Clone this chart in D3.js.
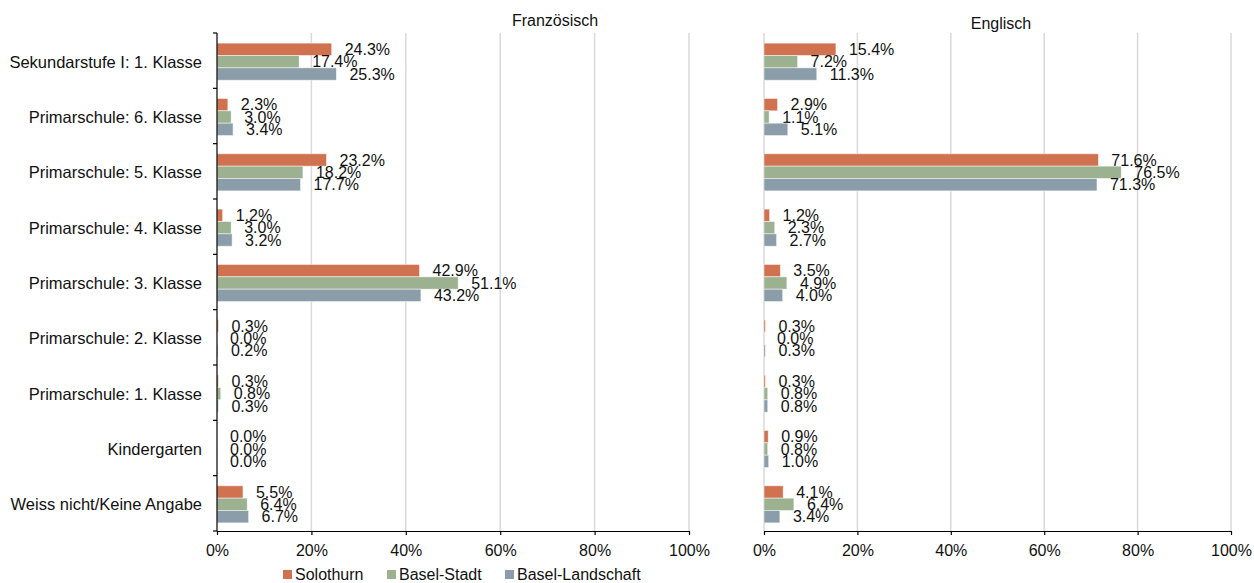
<!DOCTYPE html>
<html>
<head>
<meta charset="utf-8">
<script src="https://cdn.jsdelivr.net/npm/d3@7"></script>
<style>
  html, body { margin: 0; padding: 0; background: #fff; }
  svg { display: block; font-family: "Liberation Sans", Arial, sans-serif; }
</style>
</head>
<body>
<svg id="chart" width="1254" height="583"></svg>
<script>
const categories = [
  "Sekundarstufe I: 1. Klasse",
  "Primarschule: 6. Klasse",
  "Primarschule: 5. Klasse",
  "Primarschule: 4. Klasse",
  "Primarschule: 3. Klasse",
  "Primarschule: 2. Klasse",
  "Primarschule: 1. Klasse",
  "Kindergarten",
  "Weiss nicht/Keine Angabe"
];
const seriesNames = ["Solothurn", "Basel-Stadt", "Basel-Landschaft"];
const seriesColors = ["#D0714F", "#9BB18F", "#8A9DA8"];
const panelTitles = ["Französisch", "Englisch"];

// Französisch
const frSolothurn = [24.3, 2.3, 23.2, 1.2, 42.9, 0.3, 0.3, 0.0, 5.5];
const frBaselStadt = [17.4, 3.0, 18.2, 3.0, 51.1, 0.0, 0.8, 0.0, 6.4];
const frBaselLand = [25.3, 3.4, 17.7, 3.2, 43.2, 0.2, 0.3, 0.0, 6.7];
// Englisch
const enSolothurn = [15.4, 2.9, 71.6, 1.2, 3.5, 0.3, 0.3, 0.9, 4.1];
const enBaselStadt = [7.2, 1.1, 76.5, 2.3, 4.9, 0.0, 0.8, 0.8, 6.4];
const enBaselLand = [11.3, 5.1, 71.3, 2.7, 4.0, 0.3, 0.8, 1.0, 3.4];

const xTicks = [0, 20, 40, 60, 80, 100];

const panelsData = [
  [frSolothurn, frBaselStadt, frBaselLand],
  [enSolothurn, enBaselStadt, enBaselLand]
];

(function () {
const svg = d3.select("#chart");
const plotTop = 33, plotBottom = 531;
const panels = [
  { x0: 217, x1: 689, titleX: 555, titleY: 26, blackAxis: true },
  { x0: 764, x1: 1231, titleX: 1001, titleY: 29, blackAxis: false }
];

// category bands (for axis ticks) and bar placement (slightly shifted down like the original)
const yBand = d3.scaleBand().domain(categories).range([plotTop, plotBottom]);
const y = d3.scaleBand().domain(categories).range([plotTop + 1, plotBottom + 1])
  .paddingInner(0.33).paddingOuter(0.165);
const ySub = d3.scaleBand().domain(seriesNames).range([0, y.bandwidth()]);

panels.forEach((p, pi) => {
  const x = d3.scaleLinear().domain([0, 100]).range([p.x0, p.x1]);
  const g = svg.append("g");

  // gridlines
  g.selectAll("line.grid").data(xTicks.filter(t => p.blackAxis ? t > 0 : true))
    .enter().append("line")
    .attr("x1", d => x(d)).attr("x2", d => x(d))
    .attr("y1", plotTop).attr("y2", plotBottom)
    .attr("stroke", "#d9d9d9").attr("stroke-width", 1.5);

  // bars
  const data = panelsData[pi];
  seriesNames.forEach((s, si) => {
    const vals = data[si];
    g.selectAll("rect.s" + si).data(vals).enter().append("rect")
      .attr("x", x(0))
      .attr("y", (d, i) => y(categories[i]) + ySub(s))
      .attr("width", d => x(d) - x(0))
      .attr("height", ySub.bandwidth())
      .attr("fill", seriesColors[si])
      .attr("stroke", "rgba(255,255,255,0.6)")
      .attr("stroke-width", 0.8);
    g.selectAll("text.s" + si).data(vals).enter().append("text")
      .attr("x", d => x(d) + 13)
      .attr("y", (d, i) => y(categories[i]) + ySub(s) + ySub.bandwidth() / 2)
      .attr("dy", "0.36em")
      .attr("font-size", 16)
      .attr("fill", "#111")
      .text(d => d.toFixed(1) + "%");
  });

  // bottom axis
  const xAxis = d3.axisBottom(x).tickValues(xTicks).tickFormat(d => d + "%")
    .tickSizeInner(4).tickSizeOuter(0).tickPadding(10);
  const ax = g.append("g").attr("transform", `translate(0,${plotBottom})`).call(xAxis);
  ax.select(".domain").attr("stroke", "#000").attr("stroke-width", 1.2);
  ax.selectAll(".tick line").attr("stroke", "#000").attr("stroke-width", 1.2);
  ax.selectAll(".tick text").attr("font-size", 16).attr("fill", "#111")
    .attr("font-family", "Liberation Sans, Arial, sans-serif");

  // left axis
  if (p.blackAxis) {
    g.append("line").attr("x1", x(0)).attr("x2", x(0))
      .attr("y1", plotTop).attr("y2", plotBottom)
      .attr("stroke", "#000").attr("stroke-width", 1.2);
    const bounds = categories.map(c => yBand(c));
    bounds.push(plotBottom);
    g.selectAll("line.ytick").data(bounds).enter().append("line")
      .attr("x1", x(0) - 4).attr("x2", x(0))
      .attr("y1", d => d).attr("y2", d => d)
      .attr("stroke", "#000").attr("stroke-width", 1.2);
    g.selectAll("text.cat").data(categories).enter().append("text")
      .attr("x", x(0) - 15)
      .attr("y", d => y(d) + y.bandwidth() / 2)
      .attr("dy", "0.36em")
      .attr("text-anchor", "end")
      .attr("font-size", 16.5)
      .attr("fill", "#111")
      .text(d => d);
  }

  // title
  g.append("text").attr("x", p.titleX).attr("y", p.titleY)
    .attr("text-anchor", "middle").attr("font-size", 16).attr("fill", "#111")
    .text(panelTitles[pi]);
});

// legend
const legendX = [283, 387, 505];
const lg = svg.append("g");
seriesNames.forEach((s, i) => {
  lg.append("rect").attr("x", legendX[i]).attr("y", 570)
    .attr("width", 9).attr("height", 9).attr("fill", seriesColors[i]);
  lg.append("text").attr("x", legendX[i] + 12).attr("y", 579.5)
    .attr("font-size", 16).attr("fill", "#111").text(s);
});
})();
</script>
</body>
</html>
